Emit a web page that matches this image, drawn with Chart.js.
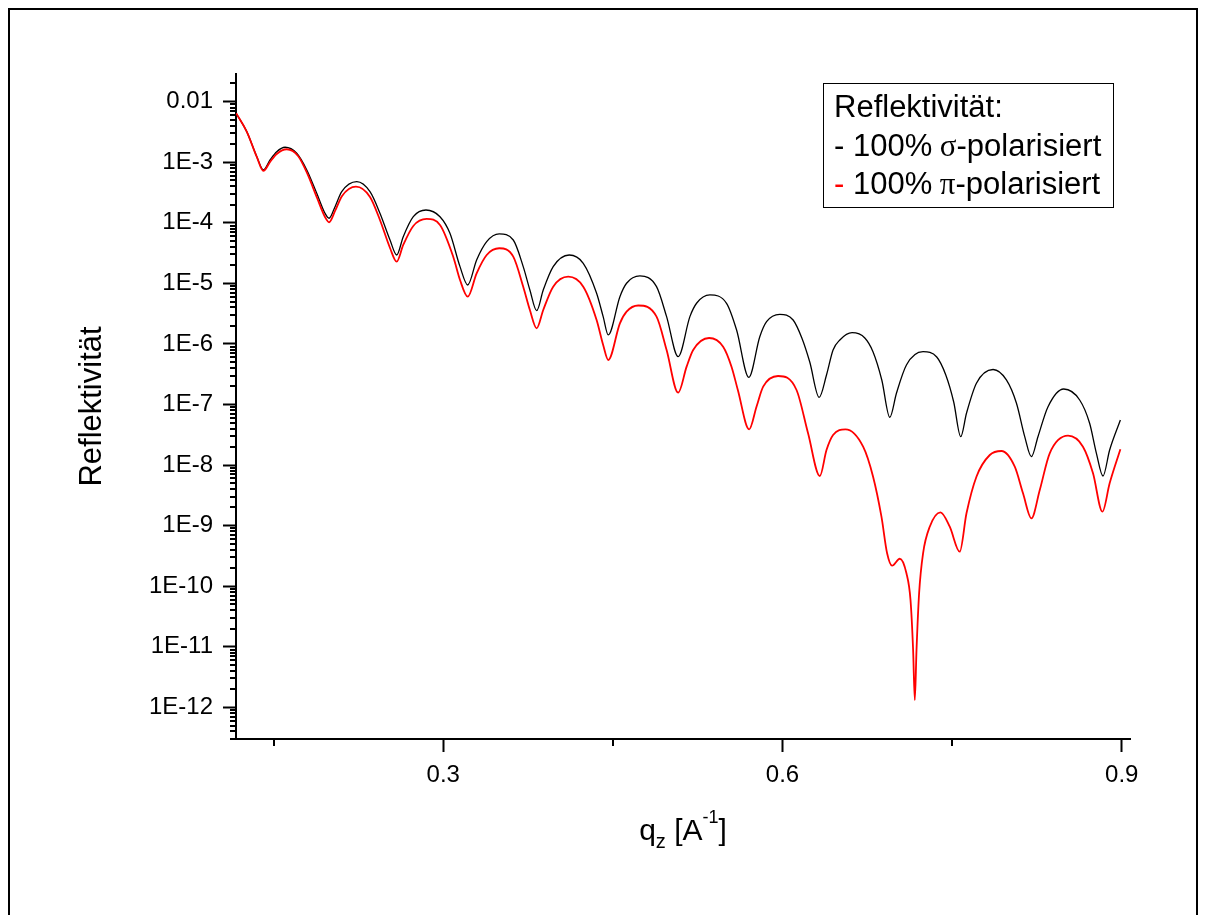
<!DOCTYPE html>
<html>
<head>
<meta charset="utf-8">
<script src="https://cdn.jsdelivr.net/npm/chart.js@4/dist/chart.umd.min.js"></script>
<style>
html,body{margin:0;padding:0;background:#fff;}
#wrap{width:1206px;height:915px;position:relative;}
canvas{display:block;}
</style>
</head>
<body>
<div id="wrap"><canvas id="c" width="1206" height="915"></canvas></div>
<script>
// ---- data (q_z in 1/A, reflectivity) ----
const qSigma = [0.1168,0.1262,0.1351,0.1409,0.1468,0.1527,0.1601,0.1704,0.1793,0.1881,0.1954,0.1990,0.2043,0.2102,0.2235,0.2352,0.2440,0.2529,0.2588,0.2646,0.2735,0.2847,0.2971,0.3059,0.3148,0.3216,0.3295,0.3384,0.3495,0.3619,0.3707,0.3766,0.3826,0.3884,0.3972,0.4114,0.4238,0.4356,0.4414,0.4459,0.4562,0.4621,0.4739,0.4886,0.4975,0.5077,0.5181,0.5240,0.5358,0.5505,0.5594,0.5702,0.5799,0.5859,0.5976,0.6094,0.6171,0.6241,0.6324,0.6389,0.6447,0.6507,0.6615,0.6728,0.6801,0.6878,0.6949,0.7008,0.7096,0.7243,0.7364,0.7444,0.7514,0.7576,0.7627,0.7715,0.7862,0.7980,0.8069,0.8142,0.8201,0.8259,0.8348,0.8487,0.8628,0.8716,0.8776,0.8834,0.8893,0.8988];
const rSigma = [6.43e-3,3.20e-3,1.235e-3,7.45e-4,1.09e-3,1.494e-3,1.766e-3,1.406e-3,7.45e-4,3.07e-4,1.436e-4,1.187e-4,1.845e-4,3.264e-4,4.775e-4,3.26e-4,1.44e-4,5.20e-5,2.94e-5,5.90e-5,1.262e-4,1.627e-4,1.26e-4,6.71e-5,1.886e-5,9.40e-6,2.43e-5,4.88e-5,6.54e-5,5.20e-5,1.89e-5,7.77e-6,3.54e-6,7.77e-6,1.89e-5,2.94e-5,2.145e-5,6.86e-6,2.82e-6,1.405e-6,6.03e-6,1.003e-5,1.324e-5,8.81e-6,2.82e-6,6.16e-7,2.82e-6,4.69e-6,6.43e-6,4.69e-6,1.698e-6,2.81e-7,1.316e-6,2.33e-6,3.085e-6,2.485e-6,1.253e-6,5.03e-7,1.314e-7,3.07e-7,7.94e-7,1.161e-6,1.532e-6,1.253e-6,7.36e-7,2.54e-7,6.15e-8,1.548e-7,4.49e-7,7.44e-7,6.09e-7,3.07e-7,1.099e-7,2.94e-8,7.16e-8,2.24e-7,3.78e-7,2.54e-7,1.046e-7,2.94e-8,1.374e-8,2.94e-8,9.19e-8,1.80e-7,1.186e-7,4.89e-8,1.563e-8,6.59e-9,1.772e-8,5.54e-8];
const qPi = [0.1168,0.1262,0.1351,0.1409,0.1468,0.1527,0.1616,0.1716,0.1795,0.1884,0.1954,0.1990,0.2043,0.2105,0.2228,0.2352,0.2440,0.2529,0.2588,0.2646,0.2735,0.2853,0.2971,0.3088,0.3148,0.3216,0.3295,0.3384,0.3495,0.3619,0.3707,0.3766,0.3826,0.3884,0.3972,0.4105,0.4238,0.4356,0.4414,0.4459,0.4562,0.4621,0.4724,0.4886,0.4975,0.5077,0.5152,0.5210,0.5351,0.5475,0.5549,0.5605,0.5705,0.5770,0.5829,0.5961,0.6124,0.6226,0.6330,0.6389,0.6447,0.6557,0.6713,0.6801,0.6875,0.6925,0.6969,0.7037,0.7096,0.7132,0.7155,0.7170,0.7185,0.7208,0.7243,0.7302,0.7397,0.7479,0.7567,0.7627,0.7715,0.7833,0.7936,0.8054,0.8127,0.8201,0.8275,0.8363,0.8525,0.8657,0.8746,0.8829,0.8893,0.8988];
const rPi = [6.43e-3,3.20e-3,1.221e-3,7.17e-4,1.01e-3,1.369e-3,1.637e-3,1.268e-3,6.65e-4,2.569e-4,1.247e-4,1.02e-4,1.567e-4,2.772e-4,3.948e-4,2.669e-4,1.113e-4,3.838e-5,2.279e-5,4.301e-5,8.86e-5,1.156e-4,9.20e-5,2.757e-5,1.137e-5,6.03e-6,1.467e-5,2.94e-5,3.795e-5,2.76e-5,8.81e-6,3.633e-6,1.812e-6,3.63e-6,8.81e-6,1.289e-5,8.81e-6,2.485e-6,9.60e-7,5.43e-7,2.191e-6,3.406e-6,4.31e-6,2.82e-6,7.94e-7,1.566e-7,4.21e-7,7.94e-7,1.253e-6,9.0e-7,4.21e-7,1.735e-7,3.89e-8,9.19e-8,1.967e-7,2.955e-7,1.735e-7,3.344e-8,6.59e-9,1.77e-8,3.134e-8,3.89e-8,2.01e-8,6.42e-9,1.403e-9,3.49e-10,2.178e-10,2.841e-10,1.631e-10,5.91e-11,8.83e-12,1.32e-12,8.83e-12,7.63e-11,3.49e-10,9.59e-10,1.659e-9,9.59e-10,3.708e-10,1.597e-9,6.42e-9,1.465e-8,1.706e-8,9.39e-9,3.415e-9,1.32e-9,3.873e-9,1.563e-8,3.052e-8,2.01e-8,7.31e-9,1.697e-9,4.996e-9,1.82e-8];

// ---- ticks & labels ----
const xMajorTicks = [0.3, 0.6, 0.9];
const xMajorLabels = ['0.3', '0.6', '0.9'];
const xMinorTicks = [0.15, 0.45, 0.75];
const yDecadeExps = [-12, -11, -10, -9, -8, -7, -6, -5, -4, -3, -2];
const yDecadeLabels = ['1E-12','1E-11','1E-10','1E-9','1E-8','1E-7','1E-6','1E-5','1E-4','1E-3','0.01'];
const xRange = [0.1167, 0.9073];
const yRange = [3.0e-13, 2.86e-2];

// ---- texts ----
const yTitle = 'Reflektivität';
const legendTitle = 'Reflektivität:';
const legendEntries = [
  {dash: '-', pre: ' 100% ', greek: 'σ', post: '-polarisiert', color: '#000000'},
  {dash: '-', pre: ' 100% ', greek: 'π', post: '-polarisiert', color: '#ff0000'}
];
const seriesColors = ['#000000', '#ff0000'];

const FONT = "'Liberation Sans', Arial, Helvetica, sans-serif";
const GREEK_FONT = "'Liberation Serif', 'Times New Roman', serif";

const decorPlugin = {
  id: 'decor',
  afterDraw(chart) {
    const ctx = chart.ctx;
    const xs = chart.scales.x, ys = chart.scales.y;
    ctx.save();
    // outer frame
    ctx.strokeStyle = '#000';
    ctx.lineWidth = 2;
    ctx.beginPath();
    ctx.moveTo(9, 915); ctx.lineTo(9, 9); ctx.lineTo(1197, 9); ctx.lineTo(1197, 915);
    ctx.stroke();

    // minor ticks on y (log)
    ctx.lineWidth = 2;
    ctx.beginPath();
    for (let e = -13; e <= -1; e++) {
      for (let m = 2; m <= 9; m++) {
        const v = m * Math.pow(10, e);
        if (v < ys.min || v > ys.max) continue;
        const py = Math.round(ys.getPixelForValue(v));
        ctx.moveTo(ys.right, py);
        ctx.lineTo(ys.right - 6, py);
      }
    }
    // minor ticks on x
    xMinorTicks.forEach(v => {
      const px = Math.round(xs.getPixelForValue(v));
      ctx.moveTo(px, xs.top);
      ctx.lineTo(px, xs.top + 7);
    });
    ctx.stroke();

    // x axis title: q_z [A^-1]
    const parts = [
      {t: 'q', size: 30, dy: 0},
      {t: 'z', size: 20, dy: 8},
      {t: ' [A', size: 30, dy: 0},
      {t: '-1', size: 18, dy: -17},
      {t: ']', size: 30, dy: 0}
    ];
    let total = 0;
    parts.forEach(p => { ctx.font = p.size + 'px ' + FONT; p.w = ctx.measureText(p.t).width; total += p.w; });
    const cx = (xs.left + xs.right) / 2;
    let x = cx - total / 2;
    const base = 840;
    ctx.fillStyle = '#000';
    ctx.textBaseline = 'alphabetic';
    ctx.textAlign = 'left';
    parts.forEach(p => { ctx.font = p.size + 'px ' + FONT; ctx.fillText(p.t, x, base + p.dy); x += p.w; });

    // legend box
    ctx.lineWidth = 1;
    ctx.strokeStyle = '#000';
    ctx.strokeRect(823.5, 83.5, 290, 124);
    const lx = 834;
    ctx.font = '31px ' + FONT;
    ctx.fillStyle = '#000';
    ctx.fillText(legendTitle, lx, 117);
    const baselines = [156, 194];
    legendEntries.forEach((en, i) => {
      let xx = lx;
      const by = baselines[i];
      ctx.font = '31px ' + FONT;
      ctx.fillStyle = en.color;
      ctx.fillText(en.dash, xx, by);
      xx += ctx.measureText(en.dash).width;
      ctx.fillStyle = '#000';
      ctx.fillText(en.pre, xx, by);
      xx += ctx.measureText(en.pre).width - 1;
      ctx.font = '31px ' + GREEK_FONT;
      ctx.fillText(en.greek, xx, by);
      xx += ctx.measureText(en.greek).width;
      ctx.font = '31px ' + FONT;
      ctx.fillText(en.post, xx, by);
    });
    ctx.restore();
  }
};

const yLabelFor = (v) => {
  const e = Math.round(Math.log10(v));
  const i = yDecadeExps.indexOf(e);
  return i >= 0 ? yDecadeLabels[i] : '';
};

new Chart(document.getElementById('c').getContext('2d'), {
  type: 'line',
  data: {
    datasets: [
      {
        label: 'sigma',
        data: qSigma.map((q, i) => ({x: q, y: rSigma[i]})),
        borderColor: seriesColors[0],
        borderWidth: 1.3,
        pointRadius: 0,
        fill: false,
        cubicInterpolationMode: 'monotone',
        order: 1
      },
      {
        label: 'pi',
        data: qPi.map((q, i) => ({x: q, y: rPi[i]})),
        borderColor: seriesColors[1],
        borderWidth: 1.8,
        pointRadius: 0,
        fill: false,
        cubicInterpolationMode: 'monotone',
        order: 0
      }
    ]
  },
  options: {
    responsive: false,
    animation: false,
    devicePixelRatio: 1,
    layout: {padding: {left: 0, top: 74, right: 76, bottom: 0}},
    plugins: {legend: {display: false}, tooltip: {enabled: false}, title: {display: false}},
    scales: {
      x: {
        type: 'linear',
        position: 'bottom',
        min: xRange[0],
        max: xRange[1],
        afterBuildTicks: s => { s.ticks = xMajorTicks.map(v => ({value: v})); },
        afterFit: s => { s.height = 176; },
        ticks: {
          autoSkip: false, maxRotation: 0, padding: 9,
          color: '#000', font: {family: FONT, size: 24},
          callback: (v) => { const i = xMajorTicks.indexOf(v); return i >= 0 ? xMajorLabels[i] : ''; }
        },
        grid: {display: true, drawOnChartArea: false, drawTicks: true, tickLength: 13, tickWidth: 2, tickColor: '#000'},
        border: {display: true, color: '#000', width: 2}
      },
      y: {
        type: 'logarithmic',
        position: 'left',
        min: yRange[0],
        max: yRange[1],
        afterBuildTicks: s => { s.ticks = yDecadeExps.map(e => ({value: Math.pow(10, e)})); },
        afterFit: s => { s.width = 236; },
        ticks: {
          autoSkip: false, padding: 10,
          color: '#000', font: {family: FONT, size: 24},
          callback: (v) => yLabelFor(v)
        },
        title: {display: true, text: yTitle, color: '#000', font: {family: FONT, size: 31}, padding: {top: 74, bottom: 0}},
        grid: {display: true, drawOnChartArea: false, drawTicks: true, tickLength: 13, tickWidth: 2, tickColor: '#000'},
        border: {display: true, color: '#000', width: 2}
      }
    }
  },
  plugins: [decorPlugin]
});
</script>
</body>
</html>
